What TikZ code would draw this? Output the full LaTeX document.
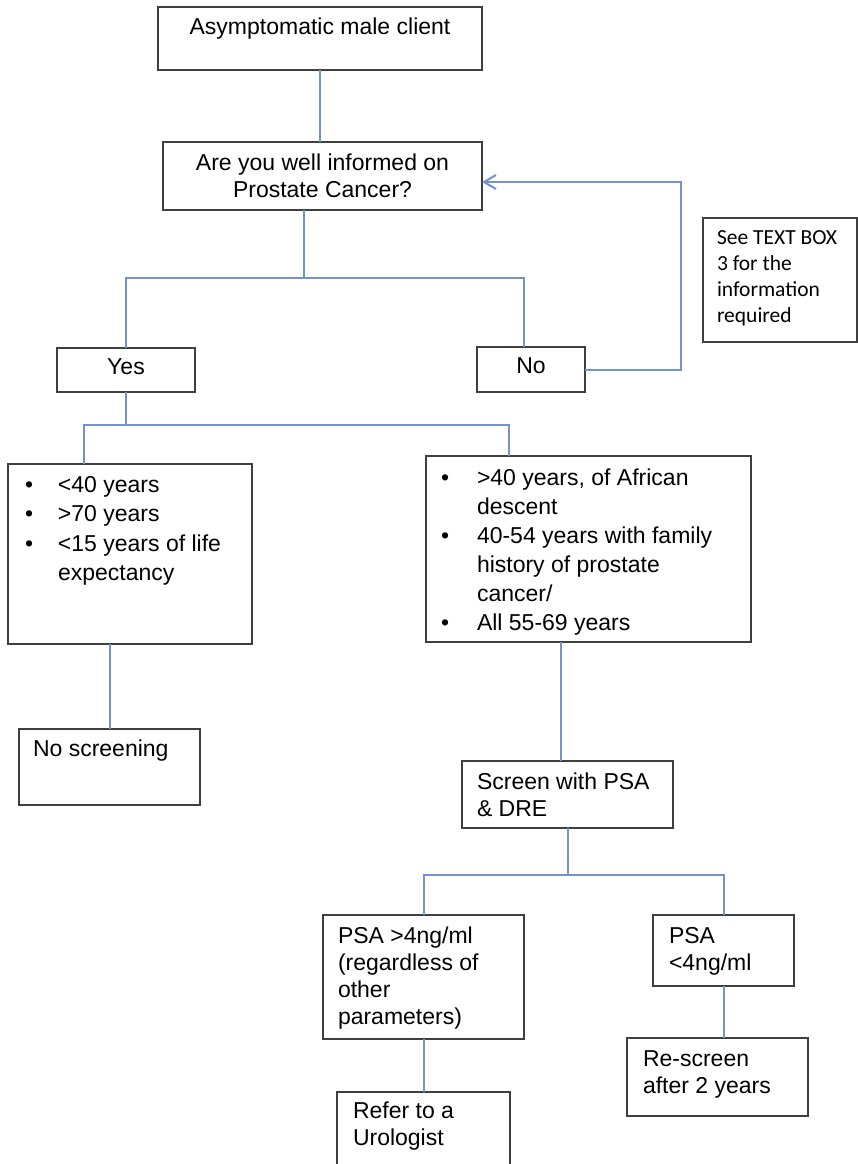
\documentclass[tikz,border=0pt]{standalone}
\usepackage{fontspec}
\setmainfont{Liberation Sans}
\newfontfamily\calibrilike{Carlito}
\usetikzlibrary{arrows.meta}

\definecolor{boxedge}{HTML}{3F3F3F}
\definecolor{linkblue}{HTML}{7492D0}

% text block of a box: width, height, lines
\newcommand{\boxtext}[3]{\parbox[t][#2][t]{#1}{\strut#3}}
\newcommand{\bul}[1][33pt]{\makebox[#1][l]{•}}

\begin{document}
\begin{tikzpicture}[x=1pt,y=-1pt,
    box/.style={draw=boxedge,line width=1.8pt,fill=white,anchor=north west,outer sep=0pt,inner ysep=9.1pt},
    link/.style={draw=linkblue,line width=2pt}]
  \useasboundingbox (0,0) rectangle (858,1164);
  \begin{scope}[every node/.style={box,font=\fontsize{23}{27}\selectfont}]
    \node[inner xsep=10pt] (client) at (158,7) {\boxtext{304pt}{44.8pt}{\centering Asymptomatic male client}};
    \node[inner xsep=10pt] (quest) at (163,142) {\boxtext{299pt}{49.8pt}{\centering Are you well informed on\\Prostate Cancer?}};
    \node[inner xsep=10pt,inner ysep=8pt] (yes) at (57,348) {\boxtext{118pt}{28pt}{\centering Yes}};
    \node[inner xsep=10pt,inner ysep=8pt] (no) at (477,347) {\boxtext{88pt}{29pt}{\centering No}};
    \node[inner xsep=14pt,inner ysep=7.8pt,font=\calibrilike\fontsize{21.5}{26}\selectfont] (info) at (703,218)
      {\boxtext{126pt}{108.4pt}{See TEXT BOX\\3 for the\\information\\required}};
    \node[inner xsep=17pt,inner ysep=7.35pt,font=\fontsize{23}{29.5}\selectfont] (young) at (8,464)
      {\boxtext{210pt}{165.3pt}{\bul<40 years\\\bul>70 years\\\bul<15 years of life\\\hspace*{33pt}expectancy}};
    \node[inner xsep=15pt,inner ysep=8.7pt,font=\fontsize{23}{29}\selectfont] (eligible) at (426,456)
      {\boxtext{295pt}{168.6pt}{\bul[36pt]>40 years, of African\\\hspace*{36pt}descent\\\bul[36pt]40-54 years with family\\\hspace*{36pt}history of prostate\\\hspace*{36pt}cancer/\\\bul[36pt]All 55-69 years}};
    \node[inner xsep=14pt,inner ysep=8.1pt] (noscreen) at (19,729) {\boxtext{153pt}{59.8pt}{No screening}};
    \node[inner xsep=15pt] (screen) at (462,761) {\boxtext{181pt}{48.8pt}{Screen with PSA\\\& DRE}};
    \node[inner xsep=15pt] (high) at (323,915) {\boxtext{171pt}{105.8pt}{PSA >4ng/ml\\(regardless of\\other\\parameters)}};
    \node[inner xsep=16pt] (low) at (653,915) {\boxtext{109pt}{52.8pt}{PSA\\<4ng/ml}};
    \node[inner xsep=16pt] (rescreen) at (627,1038) {\boxtext{149pt}{59.8pt}{Re-screen\\after 2 years}};
    \node[inner xsep=16pt,inner ysep=7.1pt] (refer) at (337,1092) {\boxtext{141pt}{85.8pt}{Refer to a\\Urologist}};
  \end{scope}
  \coordinate (j1) at (304,278);
  \coordinate (j2) at (126,425);
  \coordinate (j3) at (567.5,875);
  \coordinate (loop) at (681,182);
  \draw[link] (client.south) -- (client.south |- quest.north);
  \draw[link] (quest.south -| j1) -- (j1);
  \draw[link] (yes.north) |- (j1) -| ([xshift=-7pt]no.north);
  \draw[link,-{Straight Barb[length=12pt,width=14pt]}] (no.east) -| (loop) -- (quest.east |- loop);
  \draw[link] (yes.south) -- (yes.south |- j2);
  \draw[link] ([xshift=-46pt]young.north) |- (j2) -| ([xshift=-79.5pt]eligible.north);
  \draw[link] (noscreen.north) -- (noscreen.north |- young.south);
  \draw[link] ([xshift=-7pt]screen.north) -- ([xshift=-7pt]screen.north |- eligible.south);
  \draw[link] (screen.south) -- (screen.south |- j3);
  \draw[link] (high.north) |- (j3) -| (low.north);
  \draw[link] (high.south) -- (high.south |- refer.north);
  \draw[link] (low.south) -- (low.south |- rescreen.north);
\end{tikzpicture}
\end{document}
